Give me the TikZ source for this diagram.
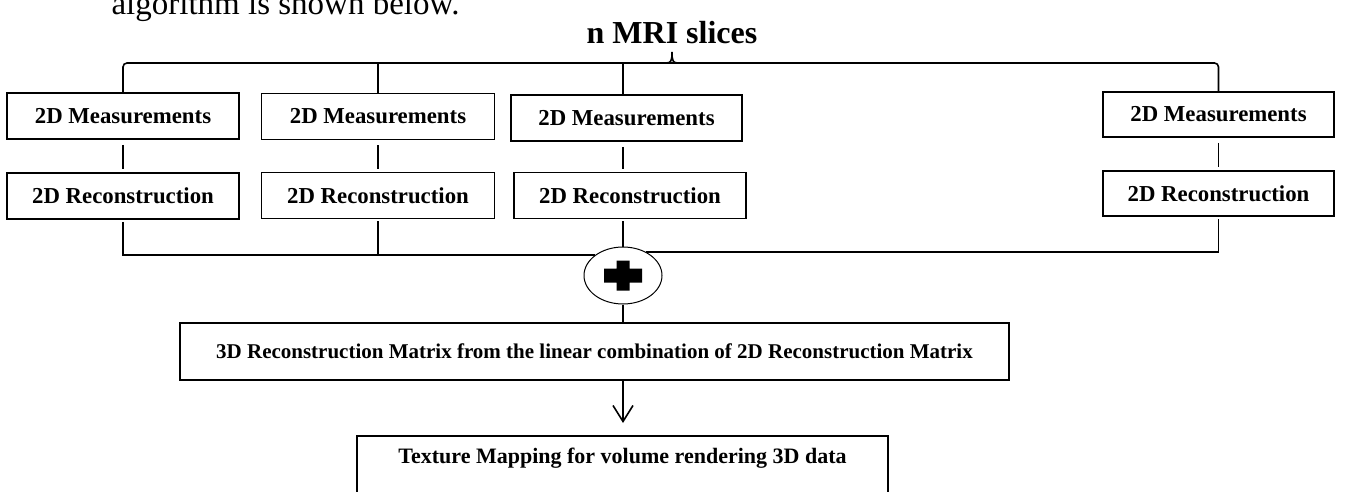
\documentclass[tikz,border=0pt]{standalone}
\usepackage{fontspec}
\setmainfont{Liberation Serif}
\usetikzlibrary{arrows.meta,calc,shapes.geometric}

\begin{document}
\begin{tikzpicture}[x=1pt,y=1pt]
	\tikzset{
		stage/.style={draw, line width=1.5pt, minimum width=232pt, minimum height=46pt, inner sep=0pt, font=\fontsize{22.8}{25}\selectfont\bfseries},
		wide/.style={draw, line width=1.5pt, inner sep=4pt, font=\fontsize{21}{24}\selectfont\bfseries},
		link/.style={line width=1.6pt},
		gap/.style={shorten <=5pt, shorten >=3pt}
	}
	\clip (0,0) rectangle (1346,491);
	\path
	(108,476) node[anchor=base west, font=\fontsize{33}{36}\selectfont](intro){algorithm is shown below.}
	(672,458) node[font=\fontsize{32}{35}\selectfont\bfseries](title){n MRI slices}
	(123,375) node[stage](m1){2D Measurements}
	(378,374.5) node[stage, minimum width=233pt](m2){2D Measurements}
	(626.5,373) node[stage, minimum width=231pt](m3){2D Measurements}
	(1218.5,376.5) node[stage, minimum width=231pt, minimum height=45pt](m4){2D Measurements}
	(123,295) node[stage](r1){2D Reconstruction}
	(378,295.5) node[stage, minimum width=233pt](r2){2D Reconstruction}
	(630,295.5) node[stage](r3){2D Reconstruction}
	(1218.5,297.5) node[stage, minimum width=231pt, minimum height=45pt](r4){2D Reconstruction}
	(623,215.5) node[ellipse, draw, line width=1pt, minimum width=78pt, minimum height=57pt, inner sep=0pt](plus){}
	(594.5,139.5) node[wide, minimum width=829pt, minimum height=57pt](matrix){3D Reconstruction Matrix from the linear combination of 2D Reconstruction Matrix}
	(622.5,56) node[wide, anchor=north, minimum width=531pt, text height=24pt, text depth=34pt, font=\fontsize{22}{25}\selectfont\bfseries](texture){Texture Mapping for volume rendering 3D data}
	;
	\fill[shift={(plus.center)}] (-6.5,-15) rectangle (6.5,15) (-19,-7) rectangle (19,7);
	% brace over the slices
	\coordinate (brace) at (672,428);
	\draw[link, rounded corners=4pt] (m1.north) |- (brace) -| (m4.north);
	\draw[link] (m2.north) -- (m2.north |- brace);
	\draw[link] (m3.north -| plus) -- (brace -| plus);
	\draw[link] ($(brace)+(-6,0)$) .. controls ($(brace)+(-1,0)$) and ($(brace)+(0,2)$) .. ($(brace)+(0,11)$) .. controls ($(brace)+(0,2)$) and ($(brace)+(1,0)$) .. ($(brace)+(6,0)$);
	% slice columns
	\foreach \i in {1,2,4}{
		\draw[link, gap] (m\i) -- (r\i);
	}
	\draw[link, gap] (m3.south -| plus) -- (r3.north -| plus);
	\draw[link, shorten <=2pt] (r1.south) |- (plus.143);
	\draw[link, shorten <=2pt] (r2.south) -- (r2.south |- plus.143);
	\draw[link, shorten <=2pt] (r3.south -| plus) -- (plus.north);
	\draw[link, shorten >=2pt] (plus.45) -| (r4.south);
	\draw[link] (plus.south) -- (plus.south |- matrix.north);
	\draw[link, shorten >=12pt, -{Straight Barb[length=16pt, width=20pt]}] (matrix.south -| plus) -- (texture.north -| plus);
\end{tikzpicture}
\end{document}
